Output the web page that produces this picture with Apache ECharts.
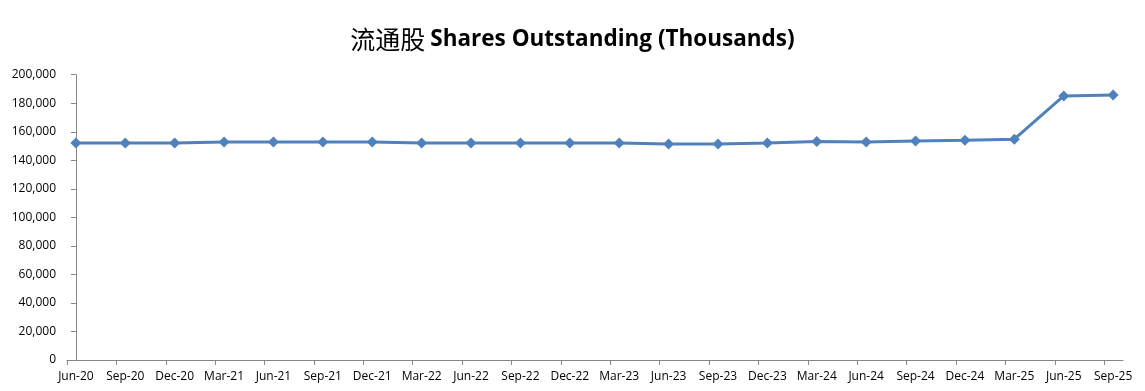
<!DOCTYPE html>
<html><head><meta charset="utf-8">
<script src="https://cdn.jsdelivr.net/npm/echarts@6/dist/echarts.min.js"></script>
<style>html,body{margin:0;padding:0;background:#fff}#c{width:1145px;height:391px}</style>
</head><body><div id="c"></div>
<script>
const categories = ['Jun-20','Sep-20','Dec-20','Mar-21','Jun-21','Sep-21','Dec-21','Mar-22','Jun-22','Sep-22','Dec-22','Mar-23','Jun-23','Sep-23','Dec-23','Mar-24','Jun-24','Sep-24','Dec-24','Mar-25','Jun-25','Sep-25'];
const shares = [152200,152200,152200,152900,152900,152900,152900,152200,152200,152200,152200,152200,151500,151500,152200,153100,152900,153600,154100,154800,185100,185800];
const yTicks = [0,20000,40000,60000,80000,100000,120000,140000,160000,180000,200000];

const tickShift = 0.18;
const chart = echarts.init(document.getElementById('c'));
const labelVals = categories.map((c,i)=>i);
const tickVals = categories.map((c,i)=>i - tickShift);
chart.setOption({
  animation:false,
  title:{
    text:'{cn|流通股} {en|Shares Outstanding (Thousands)}',
    left:'center', top:22,
    textStyle:{rich:{
      cn:{fontFamily:'Noto Sans CJK SC',fontSize:25,fontWeight:'normal',color:'#000'},
      en:{fontFamily:'Open Sans',fontSize:22.5,fontWeight:'bold',color:'#000'}
    }}
  },
  grid:{left:67,right:22,top:74.7,bottom:31,containLabel:false},
  xAxis:{
    type:'value', min:-tickShift, max:21.2,
    splitLine:{show:false},
    axisLine:{lineStyle:{color:'#868686',width:1}},
    axisTick:{show:true,length:5,lineStyle:{color:'#868686'},customValues:tickVals},
    axisLabel:{customValues:labelVals,formatter:v=>categories[Math.round(v)]||'',color:'#000',fontFamily:'Open Sans',fontSize:12,margin:11}
  },
  yAxis:{
    type:'value', min:0, max:200000, interval:20000,
    splitLine:{show:false},
    axisLine:{show:true,lineStyle:{color:'#868686',width:1}},
    axisTick:{show:true,length:5,inside:false,lineStyle:{color:'#868686'}},
    axisLabel:{color:'#000',fontFamily:'Open Sans',fontSize:12,margin:11,
      formatter:v=>v.toLocaleString('en-US')}
  },
  series:[{
    type:'line',
    data:shares.map((v,i)=>[i,v]),
    symbol:'diamond', symbolSize:11,
    lineStyle:{color:'#4F81BD',width:3},
    itemStyle:{color:'#4F81BD'}
  }]
});
</script></body></html>
